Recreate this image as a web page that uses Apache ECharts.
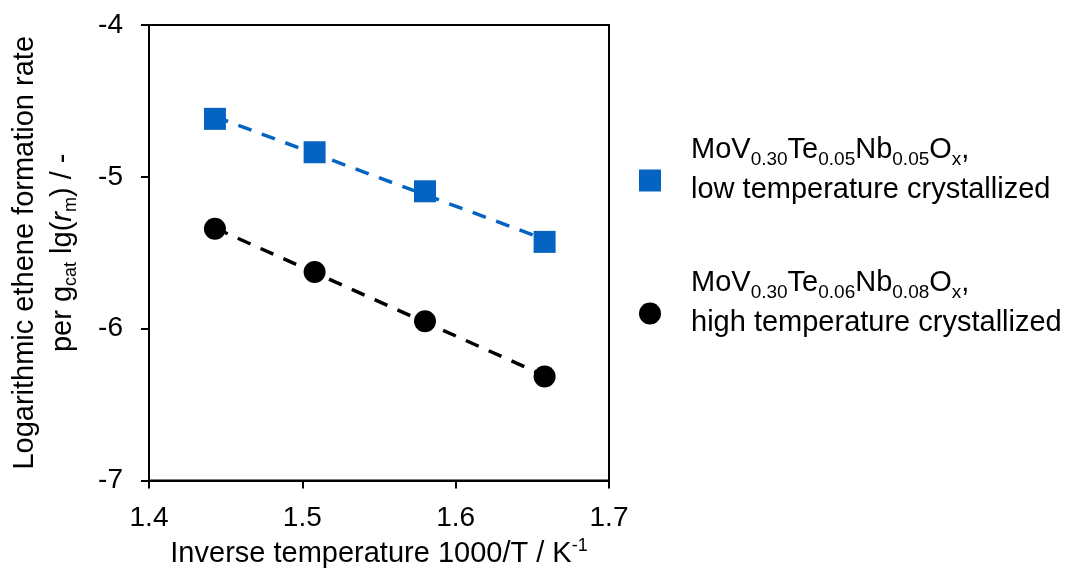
<!DOCTYPE html>
<html>
<head>
<meta charset="utf-8">
<script src="https://cdn.jsdelivr.net/npm/echarts@6/dist/echarts.min.js"></script>
<style>
html,body{margin:0;padding:0;background:#fff;}
#chart{width:1070px;height:573px;}
</style>
</head>
<body>
<div id="chart"></div>
<script>
// ---- data ----
const inverseTemperature = [1.443, 1.508, 1.580, 1.658];
const lowTempRate  = [-4.618, -4.838, -5.095, -5.428];
const highTempRate = [-5.342, -5.627, -5.951, -6.315];
const xTickLabels = ['1.4', '1.5', '1.6', '1.7'];
const yTickLabels = ['-4', '-5', '-6', '-7'];
const seriesNames = ['lowT', 'highT'];

function pairs(xs, ys) { return xs.map((x, i) => [x, ys[i]]); }
// linear least-squares trendline (as in the spreadsheet chart)
function trend(xs, ys) {
  const n = xs.length;
  const mx = xs.reduce((a, b) => a + b, 0) / n;
  const my = ys.reduce((a, b) => a + b, 0) / n;
  let sxy = 0, sxx = 0;
  for (let i = 0; i < n; i++) { sxy += (xs[i] - mx) * (ys[i] - my); sxx += (xs[i] - mx) ** 2; }
  const k = sxy / sxx, b = my - k * mx;
  const x0 = Math.min(...xs), x1 = Math.max(...xs);
  return [[x0, k * x0 + b], [x1, k * x1 + b]];
}

const FONT = '"Liberation Sans", Arial, sans-serif';
const BLUE = '#0563C1';
const TXT = '#000000';
const FS = 29;

const legendRich = {
  n:  { fontFamily: FONT, fontSize: FS, color: TXT, lineHeight: 18 },
  s:  { fontFamily: FONT, fontSize: 19, color: TXT, lineHeight: 18, padding: [20, 0, 0, 0] },
  l2: { fontFamily: FONT, fontSize: FS, color: TXT, lineHeight: 62 }
};
const legendText = {
  lowT:  '{n|MoV}{s|0.30}{n|Te}{s|0.05}{n|Nb}{s|0.05}{n|O}{s|x}{n|,}\n{l2|low temperature crystallized}',
  highT: '{n|MoV}{s|0.30}{n|Te}{s|0.06}{n|Nb}{s|0.08}{n|O}{s|x}{n|,}\n{l2|high temperature crystallized}'
};

const chart = echarts.init(document.getElementById('chart'), null, { renderer: 'canvas' });
chart.setOption({
  backgroundColor: '#ffffff',
  animation: false,
  grid: { left: 149, right: 461, top: 25, bottom: 92, show: true, borderColor: '#000', borderWidth: 2, backgroundColor: 'transparent' },
  xAxis: {
    type: 'value', min: 1.4, max: 1.7, interval: 0.1,
    name: 'Inverse temperature 1000/T / K{sup|-1}',
    nameLocation: 'middle', nameGap: 56,
    nameTextStyle: { fontFamily: FONT, fontSize: FS, color: TXT,
      rich: { sup: { fontFamily: FONT, fontSize: 18, color: TXT, padding: [0, 0, 14, 0] } } },
    axisLine: { show: true, lineStyle: { color: '#000', width: 2 } },
    axisTick: { show: true, inside: false, length: 8, lineStyle: { color: '#000', width: 2 } },
    axisLabel: { fontFamily: FONT, fontSize: 28, color: TXT, margin: 24,
      formatter: v => xTickLabels[Math.round((v - 1.4) * 10)] },
    splitLine: { show: false }
  },
  yAxis: {
    type: 'value', min: -7, max: -4, interval: 1,
    name: 'Logarithmic ethene formation rate\n{t|per g}{sub|cat}{t| lg(}{it|r}{sub|m}{t|) / -}',
    nameLocation: 'middle', nameRotate: 90, nameGap: 67,
    nameTextStyle: { fontFamily: FONT, fontSize: FS, color: TXT, lineHeight: 38,
      rich: {
        t:   { fontFamily: FONT, fontSize: FS, color: TXT, lineHeight: 38 },
        it:  { fontFamily: FONT, fontSize: FS, color: TXT, fontStyle: 'italic', lineHeight: 38 },
        sub: { fontFamily: FONT, fontSize: 18, color: TXT, lineHeight: 38, padding: [16, 0, 0, 0] }
      } },
    axisLine: { show: true, lineStyle: { color: '#000', width: 2 } },
    axisTick: { show: true, inside: false, length: 8, lineStyle: { color: '#000', width: 2 } },
    axisLabel: { fontFamily: FONT, fontSize: 28, color: TXT, margin: 26,
      formatter: v => yTickLabels[Math.round(-4 - v)] },
    splitLine: { show: false }
  },
  legend: {
    data: [
      { name: 'lowT', icon: 'rect' },
      { name: 'highT', icon: 'circle' }
    ],
    orient: 'vertical', left: 634, top: 125,
    itemWidth: 22, itemHeight: 22, itemGap: 59,
    selectedMode: false,
    formatter: name => legendText[name],
    textStyle: { fontFamily: FONT, fontSize: FS, color: TXT, padding: [0, 0, 0, 25], rich: legendRich }
  },
  series: [
    { name: 'lowTrend', type: 'line', data: trend(inverseTemperature, lowTempRate), symbol: 'none', z: 1,
      lineStyle: { color: BLUE, width: 3.5, type: [14, 11] }, silent: true },
    { name: 'highTrend', type: 'line', data: trend(inverseTemperature, highTempRate), symbol: 'none', z: 1,
      lineStyle: { color: '#000', width: 3.5, type: [14, 11] }, silent: true },
    { name: 'lowT', type: 'scatter', data: pairs(inverseTemperature, lowTempRate), symbol: 'rect', symbolSize: 22, z: 3,
      itemStyle: { color: BLUE, opacity: 1 } },
    { name: 'highT', type: 'scatter', data: pairs(inverseTemperature, highTempRate), symbol: 'circle', symbolSize: 22, z: 3,
      itemStyle: { color: '#000', opacity: 1 } }
  ]
});
</script>
</body>
</html>
